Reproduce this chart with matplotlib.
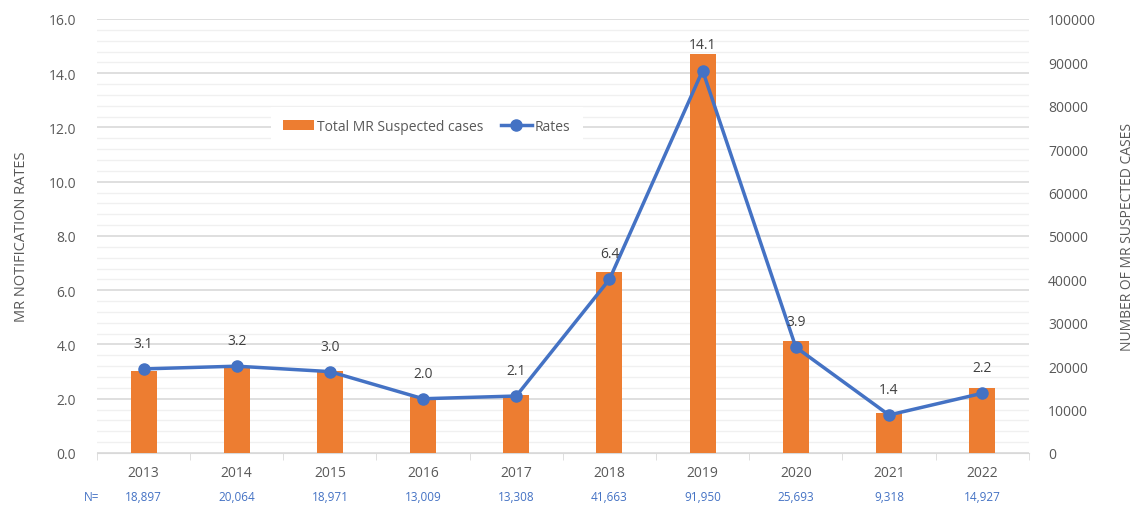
import matplotlib.pyplot as plt
from matplotlib.ticker import MultipleLocator
from matplotlib.transforms import blended_transform_factory

plt.rcParams['font.family'] = ['Open Sans', 'DejaVu Sans']

years = ['2013', '2014', '2015', '2016', '2017', '2018', '2019', '2020', '2021', '2022']
cases = [18897, 20064, 18971, 13009, 13308, 41663, 91950, 25693, 9318, 14927]
rates = [3.1, 3.2, 3.0, 2.0, 2.1, 6.4, 14.1, 3.9, 1.4, 2.2]
n_labels = ['18,897', '20,064', '18,971', '13,009', '13,308', '41,663', '91,950', '25,693', '9,318', '14,927']

gray = '#595959'
orange = '#ED7D31'
blue = '#4472C4'
x = list(range(len(years)))

fig = plt.figure(figsize=(11.38, 5.06), dpi=100)
ax = fig.add_axes([0.0852, 0.1028, 0.8188, 0.8577])

# grid layer (left axis, rates)
ax.set_ylim(0, 16)
ax.set_xlim(-0.5, 9.5)
ax.yaxis.set_major_locator(MultipleLocator(2))
ax.yaxis.set_minor_locator(MultipleLocator(0.4))
ax.grid(axis='y', which='major', color='#D9D9D9', linewidth=1.2)
ax.grid(axis='y', which='minor', color='#F0F0F0', linewidth=1.0)
ax.set_yticks([i * 2 for i in range(9)])
ax.set_yticklabels([f'{i * 2:.1f}' for i in range(9)])
ax.tick_params(axis='y', which='both', length=0, labelsize=10, labelcolor=gray, pad=15)
for s in ['top', 'right', 'left']:
    ax.spines[s].set_visible(False)
ax.spines['bottom'].set_color('#D9D9D9')
ax.set_xticks(x)
ax.set_xticklabels(years)
ax.set_xticks([i - 0.5 for i in range(len(years) + 1)], minor=True)
ax.tick_params(axis='x', which='major', length=0, labelsize=10, labelcolor=gray, pad=9)
ax.tick_params(axis='x', which='minor', length=5, color='#D9D9D9')
ax.set_ylabel('MR NOTIFICATION RATES', color=gray, fontsize=10.5, labelpad=14)

# bars (right axis, cases)
ax2 = ax.twinx()
bars = ax2.bar(x, cases, width=0.28, color=orange, label='Total MR Suspected cases')
ax2.set_ylim(0, 100000)
ax2.set_yticks(range(0, 100001, 10000))
ax2.tick_params(axis='y', length=0, labelsize=10, labelcolor=gray, pad=14)
for s in ax2.spines.values():
    s.set_visible(False)
ax2.set_ylabel('NUMBER OF MR SUSPECTED CASES', color=gray, fontsize=10, labelpad=17)

# line layer on top, sharing the rates scale
ax3 = fig.add_axes(ax.get_position(), sharex=ax, sharey=ax, frameon=False)
ax3.tick_params(left=False, bottom=False, labelleft=False, labelbottom=False, which='both')
ax3.grid(False)
line, = ax3.plot(x, rates, color=blue, linewidth=2.5, marker='o', markersize=8, label='Rates')
for xi, r in zip(x, rates):
    ax3.annotate(f'{r:.1f}', (xi, r), xytext=(0, 13), textcoords='offset points',
                 ha='center', va='bottom', fontsize=10, color='#404040')

leg = ax3.legend(handles=[bars, line], ncol=2, loc='center', bbox_to_anchor=(0.354, 0.752),
                 frameon=True, facecolor='white', edgecolor='none', framealpha=1,
                 fancybox=False, fontsize=10, labelcolor=gray, handlelength=2.2,
                 handletextpad=0.2, columnspacing=1.3, borderpad=0.9)

# N= row
trans = blended_transform_factory(ax.transData, ax.transAxes)
ax.text(-0.56, -0.1, 'N=', transform=trans, ha='center', va='center', fontsize=8.5, color=blue)
for xi, lab in zip(x, n_labels):
    ax.text(xi, -0.1, lab, transform=trans, ha='center', va='center', fontsize=8.5, color=blue)

fig.savefig('out.png', dpi=100)
